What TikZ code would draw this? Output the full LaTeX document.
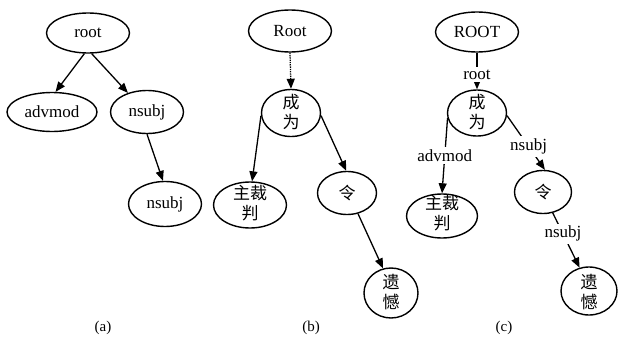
\documentclass[tikz,border=0pt]{standalone}
\usepackage{fontspec}
\setmainfont{Liberation Serif}
\newfontfamily\cjk{Noto Sans CJK SC}
\usetikzlibrary{shapes.geometric,arrows.meta}
\begin{document}
\begin{tikzpicture}[x=1pt,y=-1pt,
  ell/.style={draw, ellipse, line width=1.4pt, inner sep=0pt, font=\fontsize{17}{21}\selectfont},
  zh/.style={font=\cjk\fontsize{17}{20}\selectfont, align=center, inner sep=0pt},
  arr/.style={line width=1.3pt, -{Triangle[length=10pt,width=8pt]}},
  lbl/.style={font=\fontsize{17}{21}\selectfont, fill=white, inner sep=2.5pt},
  panellabel/.style={font=\fontsize{15}{18}\selectfont, inner sep=0pt}]
\useasboundingbox (0,0) rectangle (618,340);

% ---------- (a)
\node[ell, minimum width=83, minimum height=40] (ra) at (88,33) {root};
\node[ell, minimum width=90, minimum height=39] (adv) at (52,112) {advmod};
\node[ell, minimum width=73, minimum height=43] (ns1) at (147,112) {nsubj};
\node[ell, minimum width=73, minimum height=45] (ns2) at (165,204) {nsubj};
\draw[arr] (ra.-100) -- (adv.80);
\draw[arr] (ra.-80) -- (ns1.135);
\draw[arr] (ns1.-90) -- (ns2.95);

% ---------- (b)
\node[ell, minimum width=83, minimum height=42] (rb) at (290,31) {Root};
\node[ell, minimum width=59, minimum height=47] (cb) at (291,113) {};
\node[zh] (cbt) at (291,112) {成\\为};
\node[ell, minimum width=73, minimum height=46] (zb) at (250,205) {};
\node[zh] (zbt) at (250,203) {主裁\\判};
\node[ell, minimum width=59, minimum height=43] (lb) at (347,193) {\cjk 令};
\node[ell, minimum width=54, minimum height=50] (yb) at (391,293) {};
\node[zh] (ybt) at (391,292) {遗\\憾};
\draw[arr, densely dotted] (rb.-90) -- (cb.90);
\draw[arr] (cb.185) -- (zb.85);
\draw[arr] (cb.-5) -- (lb.92);
\draw[arr] (lb.-62) -- (yb.108);

% ---------- (c)
\node[ell, minimum width=83, minimum height=40] (rc) at (477,32) {ROOT};
\node[ell, minimum width=59, minimum height=46] (cc) at (477,113) {};
\node[zh] (cct) at (477,112) {成\\为};
\node[ell, minimum width=71, minimum height=44] (zc) at (442,216) {};
\node[zh] (zct) at (442,213) {主裁\\判};
\node[ell, minimum width=57, minimum height=43] (lc) at (543,192) {\cjk 令};
\node[ell, minimum width=56, minimum height=48] (yc) at (589,291) {};
\node[zh] (yct) at (589,292) {遗\\憾};
\draw[arr] (rc.-90) -- node[lbl, pos=0.6] (l1) {root} (cc.90);
\draw[arr] (cc.190) -- node[lbl, pos=0.5] (l2) {advmod} (zc.90);
\draw[arr] (cc.-5) -- node[lbl, pos=0.57] (l3) {nsubj} (lc.85);
\draw[arr] (lc.-65) -- node[lbl, pos=0.38] (l4) {nsubj} (yc.112);

% ---------- captions
\node[panellabel] (pa) at (103,328) {(a)};
\node[panellabel] (pb) at (311,328) {(b)};
\node[panellabel] (pc) at (504,328) {(c)};
\end{tikzpicture}
\end{document}
